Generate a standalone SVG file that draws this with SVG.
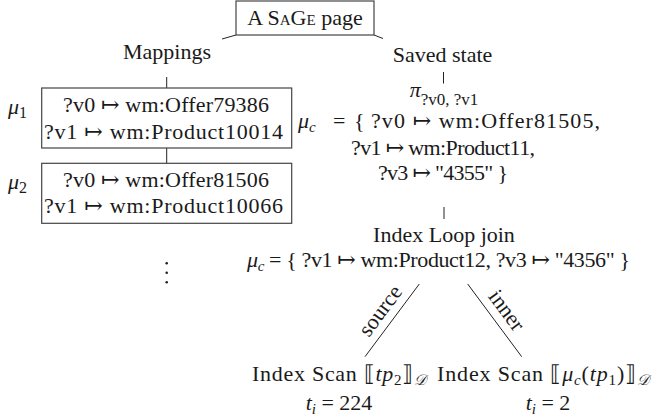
<svg xmlns="http://www.w3.org/2000/svg" width="652" height="417" viewBox="0 0 652 417" font-family="'Liberation Serif', 'DejaVu Serif', 'Times New Roman', serif">
<style>
text{font-family:'Liberation Serif','DejaVu Serif','Times New Roman',serif;font-size:22px;fill:#1a1a1a}
.c{text-anchor:middle}
.i{font-style:italic}
.s{font-size:15px;font-style:normal}
.si{font-size:15px;font-style:italic}
.box{fill:#fff;stroke:#444;stroke-width:1.2}
.ln{stroke:#222;stroke-width:1;fill:none}
</style>
<g id="connectors">
<line class="ln" x1="236" y1="35" x2="222" y2="39"/>
<line class="ln" x1="374" y1="35" x2="383" y2="38.5"/>
<line class="ln" x1="166.7" y1="77" x2="166.7" y2="88"/>
<line class="ln" x1="166.7" y1="148" x2="166.7" y2="163"/>
<line class="ln" x1="443.5" y1="72" x2="443.5" y2="83.5"/>
<line class="ln" x1="444" y1="207" x2="444" y2="219"/>
<line class="ln" x1="419.3" y1="284" x2="365" y2="356.7"/>
<line class="ln" x1="467.7" y1="284" x2="521.7" y2="356.7"/>
<text class="c" x="386" y="315" transform="rotate(-53.2 386 315)">source</text>
<text class="c" x="501" y="314.7" transform="rotate(53.4 501 314.7)">inner</text>
</g>
<g id="page">
<rect class="box" x="236" y="1" width="138" height="34"/>
<text class="c" x="305" y="25">A <tspan font-variant="small-caps">SaGe</tspan> page</text>
</g>
<g id="mappings">
<text class="c" x="167" y="59">Mappings</text>
</g>
<g id="mu1">
<rect class="box" x="41.7" y="88" width="250" height="60"/>
<text x="63" y="111.7" textLength="206" lengthAdjust="spacing">?v0 ↦ wm:Offer79386</text>
<text x="44" y="139.3" textLength="239" lengthAdjust="spacing">?v1 ↦ wm:Product10014</text>
<text x="8" y="114"><tspan class="i">μ</tspan><tspan font-size="16" dy="4">1</tspan></text>
</g>
<g id="mu2">
<rect class="box" x="41.7" y="163.3" width="250" height="60"/>
<text x="63" y="186.7" textLength="206" lengthAdjust="spacing">?v0 ↦ wm:Offer81506</text>
<text x="44" y="213.3" textLength="239" lengthAdjust="spacing">?v1 ↦ wm:Product10066</text>
<text x="8" y="189"><tspan class="i">μ</tspan><tspan font-size="16" dy="4">2</tspan></text>
</g>
<g id="dots">
<circle cx="166.7" cy="263.3" r="1.3" fill="#222"/>
<circle cx="166.7" cy="272.7" r="1.3" fill="#222"/>
<circle cx="166.7" cy="282.3" r="1.3" fill="#222"/>
</g>
<g id="saved">
<text class="c" x="442.5" y="62">Saved state</text>
</g>
<g id="projection">
<text class="c" x="444" y="97"><tspan class="i">π</tspan><tspan font-size="17" dy="8">?v0, ?v1</tspan></text>
<text x="298" y="128"><tspan class="i">μ</tspan><tspan class="si" dy="4">c</tspan></text>
<text x="333" y="128">=</text>
<text x="354" y="128">{</text>
<text x="371" y="128" textLength="229" lengthAdjust="spacing">?v0 ↦ wm:Offer81505,</text>
<text x="351" y="155" textLength="184" lengthAdjust="spacing">?v1 ↦ wm:Product11,</text>
<text x="378" y="180" textLength="130" lengthAdjust="spacing">?v3 ↦ "4355" }</text>
</g>
<g id="join">
<text class="c" x="444" y="242">Index Loop join</text>
<text x="247" y="267" textLength="383" lengthAdjust="spacing"><tspan class="i">μ</tspan><tspan class="si" dy="4">c</tspan><tspan dy="-4"> = { ?v1 ↦ wm:Product12, ?v3 ↦ "4356" }</tspan></text>
</g>
<g id="scan1">
<text x="252" y="381" textLength="174" lengthAdjust="spacing">Index Scan ⟦<tspan class="i">tp</tspan><tspan class="s" dy="4">2</tspan><tspan dy="-4">⟧</tspan><tspan class="si" dy="4">𝒟</tspan></text>
<text class="c" x="339" y="410"><tspan class="i">t</tspan><tspan class="si" dy="4">i</tspan><tspan dy="-4"> = 224</tspan></text>
</g>
<g id="scan2">
<text x="437" y="381" textLength="212" lengthAdjust="spacing">Index Scan ⟦<tspan class="i">μ</tspan><tspan class="si" dy="4">c</tspan><tspan dy="-4">(</tspan><tspan class="i">tp</tspan><tspan class="s" dy="4">1</tspan><tspan dy="-4">)⟧</tspan><tspan class="si" dy="4">𝒟</tspan></text>
<text class="c" x="548" y="410"><tspan class="i">t</tspan><tspan class="si" dy="4">i</tspan><tspan dy="-4"> = 2</tspan></text>
</g>
</svg>
